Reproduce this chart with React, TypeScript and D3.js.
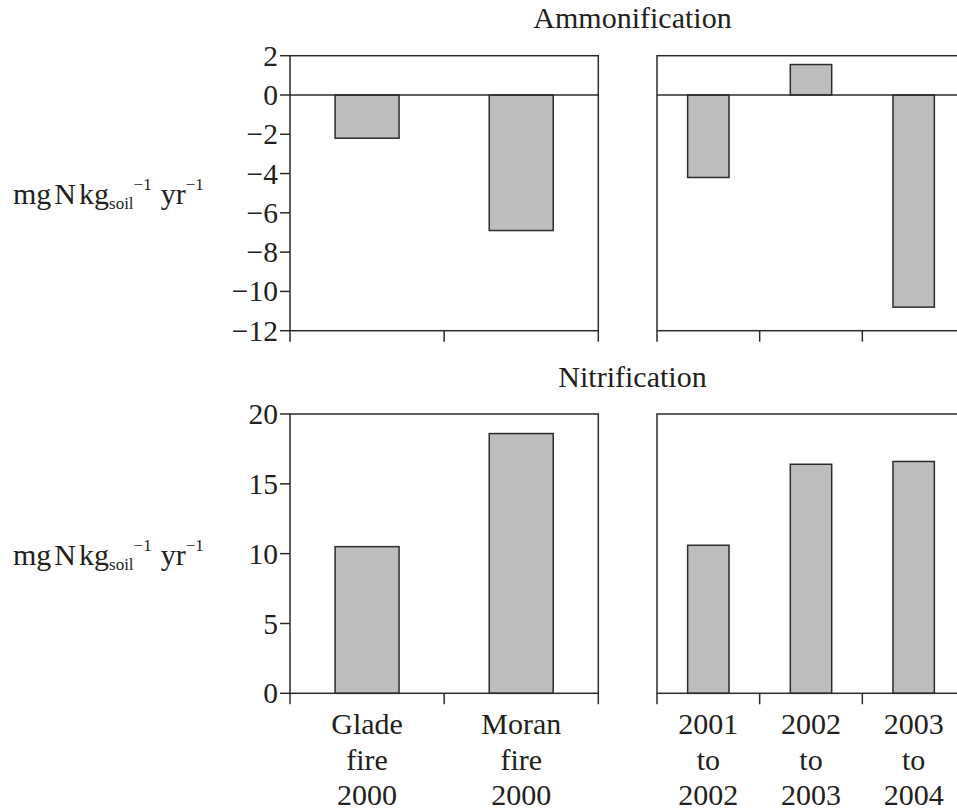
import React from "react";
import * as d3 from "d3";

const leftCategories = ["Glade fire 2000", "Moran fire 2000"];
const rightCategories = ["2001 to 2002", "2002 to 2003", "2003 to 2004"];
const leftLabels = [["Glade", "fire", "2000"], ["Moran", "fire", "2000"]];
const rightLabels = [["2001", "to", "2002"], ["2002", "to", "2003"], ["2003", "to", "2004"]];

const ammonLeft = [-2.2, -6.9];
const ammonRight = [-4.2, 1.55, -10.8];
const nitrLeft = [10.5, 18.6];
const nitrRight = [10.6, 16.4, 16.6];

const ammonTicks = [2, 0, -2, -4, -6, -8, -10, -12];
const nitrTicks = [0, 5, 10, 15, 20];

const FONT = "Times New Roman, Liberation Serif, Times, DejaVu Serif, serif";
const TXT = "#231f20";
const LINE = "#2b2b2b";
const BAR = "#bcbdbf";

const W = 957;
const H = 812;

const xLeft = d3.scaleBand<string>().domain(leftCategories).range([290, 598.3]).padding(0);
const xRight = d3.scaleBand<string>().domain(rightCategories).range([657, 965]).padding(0);

const yTop = d3.scaleLinear().domain([-12, 2]).range([330.7, 55.7]);
const yBot = d3.scaleLinear().domain([0, 20]).range([693.3, 414]);

const fmt = (v: number) => (v < 0 ? "\u2212" + Math.abs(v) : String(v));

function Panel({
  x,
  y,
  cats,
  values,
  barFrac,
  showY,
  ticks,
  zeroLine,
}: {
  x: d3.ScaleBand<string>;
  y: d3.ScaleLinear<number, number>;
  cats: string[];
  values: number[];
  barFrac: number;
  showY: boolean;
  ticks: number[];
  zeroLine: boolean;
}) {
  const [x0, x1] = x.range();
  const [yb, yt] = y.range();
  const bw = x.bandwidth() * barFrac;
  const boundaries = [...cats.map((c) => x(c)!), x1];
  return (
    <g>
      {cats.map((c, i) => {
        const v = values[i];
        const cx = x(c)! + x.bandwidth() / 2;
        const top = y(Math.max(0, v));
        const bot = y(Math.min(0, v));
        return (
          <rect
            key={c}
            x={cx - bw / 2}
            y={top}
            width={bw}
            height={bot - top}
            fill={BAR}
            stroke={LINE}
            strokeWidth={1.5}
          />
        );
      })}
      <rect x={x0} y={yt} width={x1 - x0} height={yb - yt} fill="none" stroke={LINE} strokeWidth={1.5} />
      {zeroLine && <line x1={x0} x2={x1} y1={y(0)} y2={y(0)} stroke={LINE} strokeWidth={1.5} />}
      {boundaries.map((bx, i) => (
        <line key={i} x1={bx} x2={bx} y1={yb} y2={yb + 11} stroke={LINE} strokeWidth={1.5} />
      ))}
      {showY &&
        ticks.map((t) => (
          <g key={t}>
            <line x1={x0 - 10} x2={x0} y1={y(t)} y2={y(t)} stroke={LINE} strokeWidth={1.5} />
            <text
              x={x0 - 12}
              y={y(t)}
              dy="0.34em"
              textAnchor="end"
              fontFamily={FONT}
              fontSize={29.5}
              fill={TXT}
            >
              {fmt(t)}
            </text>
          </g>
        ))}
    </g>
  );
}

function YLabel({ y }: { y: number }) {
  return (
    <text x={13} y={y} fontFamily={FONT} fontSize={30} fill={TXT}>
      <tspan>mg</tspan>
      <tspan dx={3}>N</tspan>
      <tspan dx={3}>kg</tspan>
      <tspan fontSize={17} dy={5}>soil</tspan>
      <tspan fontSize={17} dy={-19}>{"\u22121"}</tspan>
      <tspan dy={14} dx={9}>yr</tspan>
      <tspan fontSize={17} dy={-14}>{"\u22121"}</tspan>
    </text>
  );
}

function XLabels({ x, cats, labels }: { x: d3.ScaleBand<string>; cats: string[]; labels: string[][] }) {
  const baselines = [734, 770, 805];
  return (
    <g>
      {cats.map((c, i) =>
        labels[i].map((l, j) => (
          <text
            key={c + j}
            x={x(c)! + x.bandwidth() / 2}
            y={baselines[j]}
            textAnchor="middle"
            fontFamily={FONT}
            fontSize={30}
            fill={TXT}
          >
            {l}
          </text>
        ))
      )}
    </g>
  );
}

export default function App() {
  return (
    <svg
      width={W}
      height={H}
      style={{ position: "absolute", left: 0, top: 0, background: "#fff" }}
    >
      <text x={632.5} y={28} textAnchor="middle" fontFamily={FONT} fontSize={30} fill={TXT}>
        Ammonification
      </text>
      <text x={632.5} y={387} textAnchor="middle" fontFamily={FONT} fontSize={30} fill={TXT}>
        Nitrification
      </text>
      <Panel x={xLeft} y={yTop} cats={leftCategories} values={ammonLeft} barFrac={0.415} showY ticks={ammonTicks} zeroLine />
      <Panel x={xRight} y={yTop} cats={rightCategories} values={ammonRight} barFrac={0.403} showY={false} ticks={ammonTicks} zeroLine />
      <Panel x={xLeft} y={yBot} cats={leftCategories} values={nitrLeft} barFrac={0.415} showY ticks={nitrTicks} zeroLine={false} />
      <Panel x={xRight} y={yBot} cats={rightCategories} values={nitrRight} barFrac={0.403} showY={false} ticks={nitrTicks} zeroLine={false} />
      <YLabel y={204} />
      <YLabel y={565} />
      <XLabels x={xLeft} cats={leftCategories} labels={leftLabels} />
      <XLabels x={xRight} cats={rightCategories} labels={rightLabels} />
    </svg>
  );
}
